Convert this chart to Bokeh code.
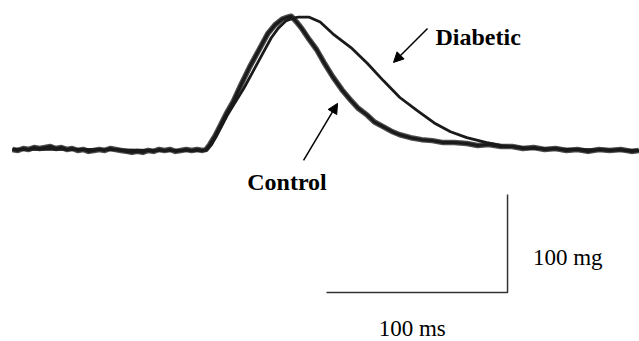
from bokeh.plotting import figure
from bokeh.models import Arrow, NormalHead
from bokeh.core.properties import value
from bokeh.embed import file_html
from bokeh.resources import INLINE

# Control twitch trace (time in ms, force in mg)
control_t = [0, 3, 6, 9, 12, 15, 18, 21, 24, 27, 30, 33, 36, 39, 42, 45, 48, 51, 54, 57,
             60, 63, 66, 69, 72, 75, 78, 81, 84, 87, 90, 93, 96, 99, 102, 105,
             107, 109, 112, 115, 118, 122, 126, 131, 136, 141, 145, 149, 152, 154,
             157, 160, 164, 168, 172, 177, 182, 187, 191, 196, 200, 205, 210, 214,
             220, 226, 232, 238, 244, 251, 257, 263, 270, 276, 282, 288, 294, 300,
             306, 312, 318, 324, 330, 336, 342, 346]
control_f = [1, 0, 2, 1, 3, 2, 3, 4, 2, 3, 1, 2, 0, 1, -1, 0, 1, 0, 2, 1,
             0, -1, -2, -1, -2, 0, -1, 1, 0, 1, -1, 0, 1, 0, 1, 0,
             1, 6, 15, 26, 37, 50, 66, 85, 102, 119, 128, 134, 136, 137,
             131, 124, 113, 103, 90, 75, 62, 51, 43, 36, 29, 24, 19, 16,
             13, 11, 10, 8, 8, 7, 5, 6, 4, 4, 2, 3, 1, 2,
             0, 1, -1, 1, 0, 1, -1, 0]

# Diabetic twitch trace
diab_t = [0, 40, 80, 107, 110, 115, 119, 124, 128, 133, 138, 143, 147, 151, 155, 158,
          164, 170, 177, 187, 196, 205, 214, 224, 233, 242, 251, 262, 270, 286, 310, 346]
diab_f = [1, 1, 0, 0, 6, 23, 37, 52, 64, 81, 98, 115, 125, 132, 135, 136,
          136, 131, 119, 105, 89, 71, 54, 40, 28, 19, 13, 8, 5, 2, 1, 0]

# Scale bar (100 ms x 100 mg)
bar_t = [173.5, 273.5, 273.5]
bar_f = [-145, -145, -45]

p = figure(width=639, height=341, x_range=(-6.6, 346.4), y_range=(-195, 153),
           output_backend="svg", toolbar_location=None, min_border=0)
p.axis.visible = False
p.xgrid.visible = False
p.ygrid.visible = False
p.outline_line_color = None
p.background_fill_color = "white"

p.line(control_t, control_f, line_color="#3a3a3a", line_width=5.5, line_alpha=0.9,
       line_join="round")
p.line(control_t, control_f, line_color="#1a1a1a", line_width=3, line_join="round")
p.line(diab_t, diab_f, line_color="#1a1a1a", line_width=2.8, line_join="round")

p.line(bar_t, bar_f, line_color="#333333", line_width=1.5)

head = dict(size=10, fill_color="black", line_color="black")
p.add_layout(Arrow(end=NormalHead(**head), x_start=229.3, y_start=124.5,
                   x_end=210.5, y_end=89.8, line_width=1.5, line_color="black"))
p.add_layout(Arrow(end=NormalHead(**head), x_start=160.8, y_start=-10.2,
                   x_end=179.6, y_end=48, line_width=1.5, line_color="black"))

serif = value("Liberation Serif")
p.text(x=[233.7], y=[116], text=["Diabetic"], text_font=serif, text_font_size="24px",
       text_font_style="bold", text_color="black", text_baseline="alphabetic")
p.text(x=[129.7], y=[-32.6], text=["Control"], text_font=serif, text_font_size="24px",
       text_font_style="bold", text_color="black", text_baseline="alphabetic")
p.text(x=[287.5], y=[-109], text=["100 mg"], text_font=serif, text_font_size="23px",
       text_color="black", text_baseline="alphabetic")
p.text(x=[202.3], y=[-181.6], text=["100 ms"], text_font=serif, text_font_size="23px",
       text_color="black", text_baseline="alphabetic")

open("out.html", "w").write(file_html(p, INLINE))
